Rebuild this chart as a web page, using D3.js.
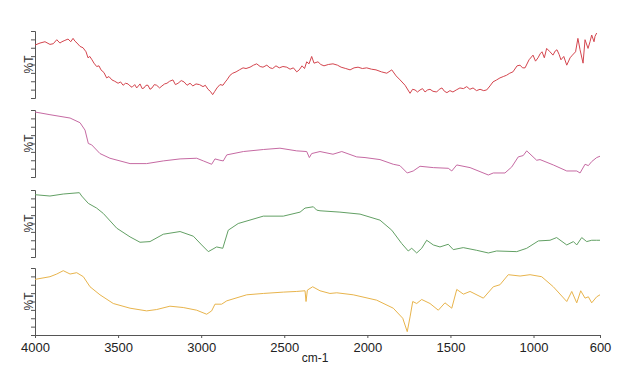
<!DOCTYPE html>
<html><head><meta charset="utf-8">
<script src="https://cdn.jsdelivr.net/npm/d3@7"></script>
<style>body{margin:0;background:#fff}svg{display:block}</style>
</head><body>
<svg id="c" width="636" height="386"></svg>
<script>
// wavenumber (cm-1) and relative %T (0-100 within each panel)
const xTicks = [4000, 3500, 3000, 2500, 2000, 1500, 1000, 600];
const xLabel = "cm-1";
const yLabel = "%T";
const seriesColors = ["#d4454e", "#c66aa3", "#62a064", "#e8b44c"];

const redW = [4000,3970,3940,3910,3890,3869,3850,3838,3820,3801,3785,3771,3760,3747,3729,3711,3693,3681,3670,3657,3645,3629,3615,3603,3585,3569,3555,3537,3520,3500,3485,3470,3455,3440,3428,3416,3400,3388,3378,3368,3355,3344,3332,3320,3308,3296,3282,3268,3250,3236,3220,3206,3190,3170,3155,3139,3120,3103,3085,3067,3050,3031,3010,2989,2975,2959,2945,2931,2918,2905,2887,2869,2855,2845,2826,2810,2790,2770,2748,2730,2706,2685,2666,2645,2628,2605,2586,2570,2550,2530,2508,2485,2465,2445,2425,2410,2393,2378,2365,2351,2335,2321,2297,2280,2261,2235,2207,2180,2158,2130,2104,2080,2056,2030,2004,1975,1948,1915,1883,1853,1827,1803,1773,1743,1728,1713,1698,1683,1668,1653,1638,1623,1605,1583,1567,1551,1536,1521,1503,1485,1465,1443,1422,1402,1383,1364,1343,1322,1300,1282,1262,1244,1222,1202,1182,1162,1143,1124,1099,1081,1066,1051,1027,1003,988,973,960,949,935,921,901,883,870,859,846,835,818,800,780,766,747,733,720,702,690,672,660,650,636,630,620,610,600];
const redT = [79,82,84,80,81,87,82,84,86,88,84,89,85,82,77,75,69,60,62,57,52,47,48,42,38,30,32,27,25,22,24,19,22,21,18,16,20,15,18,21,14,15,19,19,13,15,20,19,15,18,21,22,25,27,20,22,26,24,19,22,18,21,20,17,19,13,10,5,10,15,20,19,24,27,34,37,39,42,45,44,46,49,51,47,46,49,45,44,48,45,47,46,43,45,39,42,48,44,54,51,62,52,54,50,48,50,51,49,46,44,42,45,46,44,45,43,42,39,37,42,33,27,19,7,13,12,9,12,14,9,12,13,10,9,13,15,10,8,11,9,12,15,14,17,13,15,11,13,11,12,18,24,27,30,32,34,37,39,48,49,45,45,57,64,55,60,66,69,60,74,69,64,70,72,65,57,62,49,60,64,69,89,72,52,87,74,84,94,84,92,97];

const pinkW = [4000,3910,3789,3729,3699,3679,3659,3609,3549,3428,3328,3228,3127,3027,2987,2937,2917,2887,2867,2846,2746,2626,2526,2425,2365,2349,2335,2285,2207,2154,2064,2014,1924,1844,1804,1760,1724,1683,1603,1513,1492,1462,1382,1322,1272,1242,1172,1131,1092,1062,1041,981,961,881,800,740,720,690,670,650,620,600];
const pinkT = [97,93,88,81,70,50,48,35,28,20,20,24,27,28,24,19,27,25,24,33,38,41,43,39,38,29,35,38,34,38,30,29,26,19,17,6,9,16,14,13,9,18,14,8,3,6,6,15,30,32,39,25,26,18,9,9,6,19,17,23,29,31];

const greenW = [4000,3910,3830,3733,3719,3679,3629,3589,3508,3428,3368,3308,3228,3127,3047,2997,2957,2907,2870,2837,2777,2626,2506,2405,2375,2325,2305,2285,2165,2044,1924,1853,1793,1754,1733,1703,1673,1643,1603,1563,1513,1483,1423,1342,1272,1222,1101,1041,971,901,861,800,760,740,710,680,650,620,600];
const greenT = [93,91,94,96,91,80,73,65,43,30,22,23,34,38,31,18,8,15,13,40,50,61,61,67,73,75,70,69,67,64,55,40,20,9,13,6,13,25,18,15,19,11,14,10,6,9,8,13,24,25,29,18,23,18,29,23,25,25,25];

const yellowW = [4000,3910,3869,3830,3789,3749,3709,3669,3609,3529,3428,3328,3268,3188,3108,3027,2967,2937,2917,2877,2846,2726,2626,2506,2425,2375,2369,2361,2329,2285,2225,2184,2085,1944,1844,1787,1760,1743,1727,1703,1673,1623,1573,1533,1492,1462,1422,1382,1302,1242,1202,1152,1081,1021,951,881,800,770,740,716,690,670,650,620,600];
const yellowT = [83,87,91,96,91,93,87,72,60,47,40,36,38,43,41,37,31,36,46,46,51,60,62,64,65,66,50,67,72,66,62,63,60,52,40,25,5,27,50,47,53,47,37,48,40,68,61,65,55,72,75,90,88,90,87,72,50,65,48,66,55,57,48,57,60];

const seriesW = [redW, pinkW, greenW, yellowW];
const seriesT = [redT, pinkT, greenT, yellowT];

const svg = d3.select("#c");
const left = 35, right = 600;
const panelTops = [31, 110, 190, 268];
const panelH = 67;
const x = d3.scaleLinear().domain([4000, 600]).range([left, right]);
const font = "'Liberation Sans', Arial, sans-serif";

seriesW.forEach((ws, i) => {
  const top = panelTops[i];
  const y = d3.scaleLinear().domain([0, 100]).range([top + panelH, top]);
  const g = svg.append("g");
  const ax = g.append("g").attr("transform", `translate(${left},0)`)
    .call(d3.axisLeft(y).tickValues(d3.range(0, 100.1, 12.5)).tickSize(4).tickFormat(""));
  ax.select(".domain").attr("stroke", "#555").attr("stroke-width", 1);
  ax.selectAll(".tick line").attr("stroke", "#555");
  g.append("text").attr("transform", `translate(33,${top + panelH / 2}) rotate(-90)`)
    .attr("text-anchor", "middle").attr("font-family", font).attr("font-size", 12)
    .attr("fill", "#333").text(yLabel);
  const pts = ws.map((w, k) => [w, seriesT[i][k]]);
  g.append("path").datum(pts)
    .attr("fill", "none").attr("stroke", seriesColors[i]).attr("stroke-width", 1)
    .attr("stroke-linejoin", "round")
    .attr("d", d3.line().x(d => x(d[0])).y(d => y(d[1])));
});

const xa = svg.append("g").attr("transform", "translate(0,335)")
  .call(d3.axisBottom(x).tickValues(xTicks).tickSize(3).tickSizeOuter(0).tickFormat(d3.format("d")));
xa.select(".domain").attr("stroke", "#555");
xa.selectAll(".tick line").attr("stroke", "#555");
xa.selectAll("text").attr("font-family", font).attr("font-size", 13).attr("fill", "#222").attr("dy", "0.85em");

svg.append("text").attr("x", 315).attr("y", 362).attr("text-anchor", "middle")
  .attr("font-family", font).attr("font-size", 12).attr("fill", "#222").text(xLabel);
</script>
</body></html>
